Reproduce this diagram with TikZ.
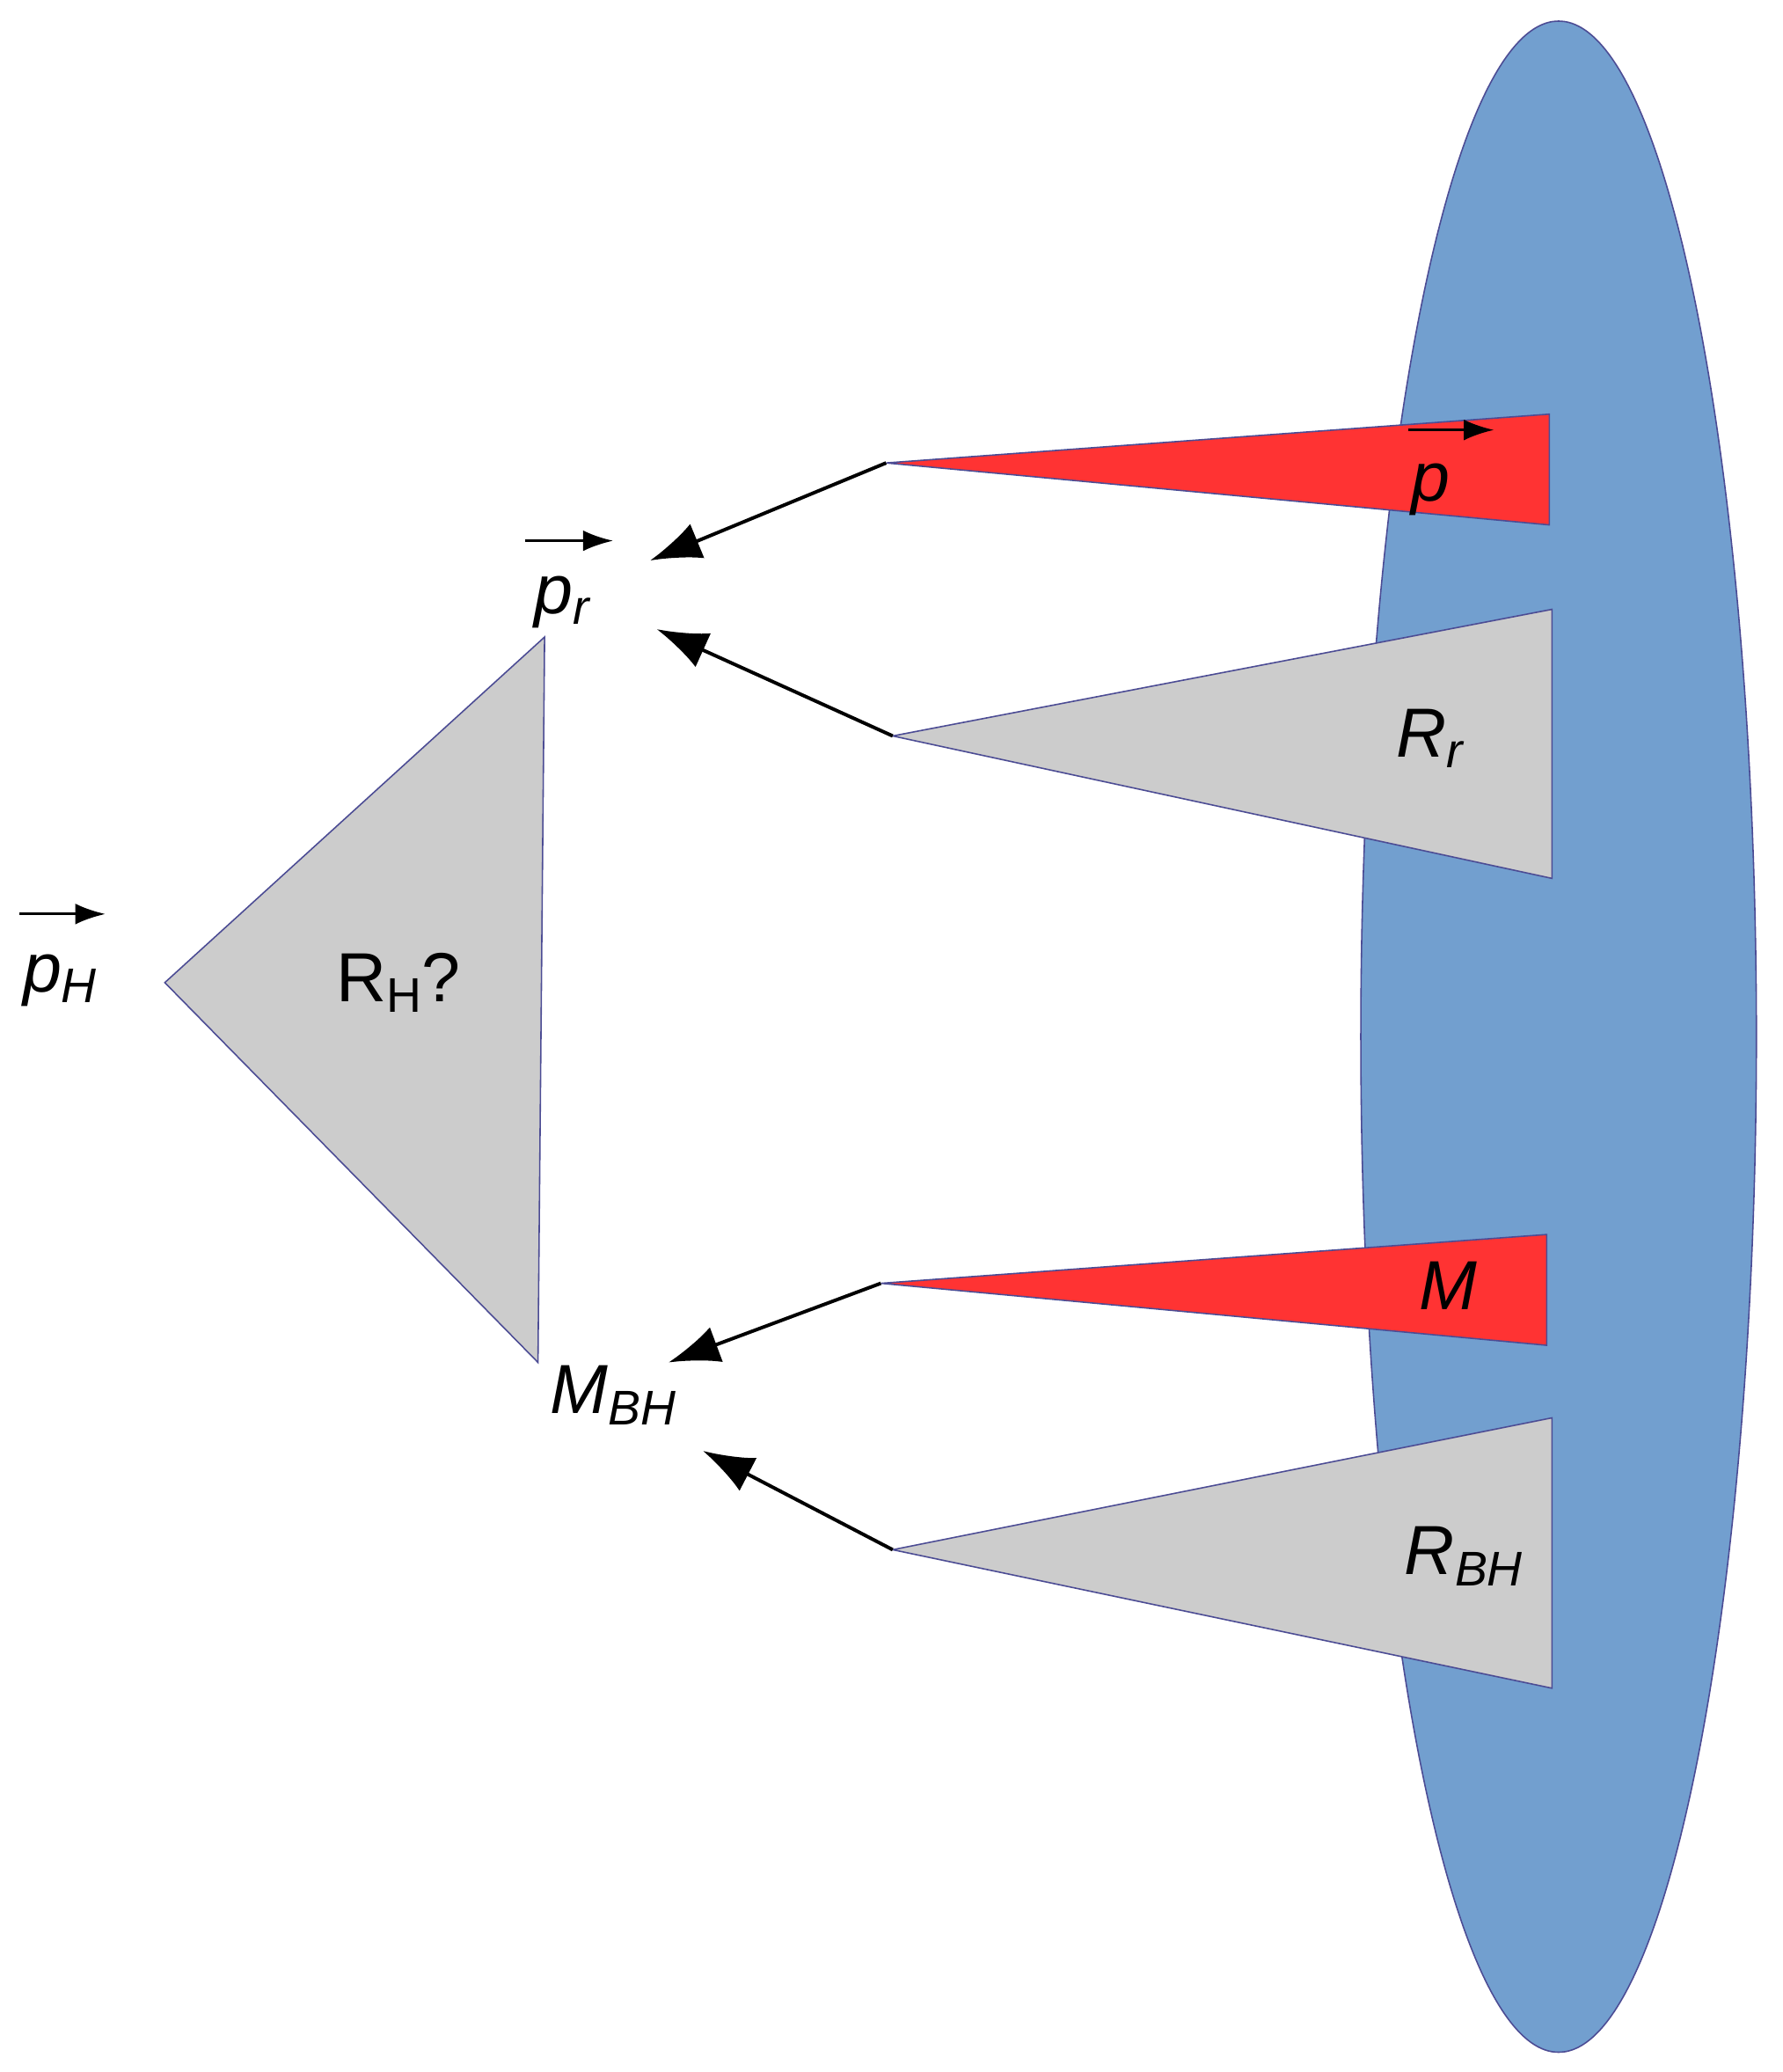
\documentclass[tikz,border=0pt]{standalone}
\usepackage{fontspec}
\setmainfont{Liberation Sans}
\usetikzlibrary{arrows.meta}
\newcommand{\lsub}[1]{\raisebox{-0.3ex}{\fontsize{21}{24}\selectfont #1}}
\begin{document}
\begin{tikzpicture}[x=0.02cm,y=-0.02cm,
  lab/.style={font=\fontsize{30}{34}\selectfont,inner sep=0},
  tri/.style={draw=blue!40!black!70,line width=0.6pt},
  grey/.style={tri,fill=black!20},
  red/.style={tri,fill=red!80!white},
  arr/.style={line width=1.5pt,-{Latex[length=22pt,width=16pt]}},
  varr/.style={line width=1.2pt,-{Latex[length=13pt,width=9pt]}}]
\useasboundingbox (0,0) rectangle (1352,1571);
\filldraw[fill={rgb,255:red,114;green,159;blue,207},draw=blue!40!black!70,line width=0.6pt] (1182,786) ellipse [x radius=150,y radius=770];
% triangles
\draw[red] (672,351) coordinate (a1) -- (1175,314) -- (1175,398) -- cycle;
\draw[grey] (677,558) coordinate (a2) -- (1177,462) -- (1177,666) -- cycle;
\draw[red] (668,973) coordinate (a3) -- (1173,936) -- (1173,1020) -- cycle;
\draw[grey] (677,1175) coordinate (a4) -- (1177,1075) -- (1177,1280) -- cycle;
\draw[grey] (125,745) -- (413,483) -- (408,1033) -- cycle;
% labels
\node[lab,anchor=base west] (p) at (1070,380) {\textit{p}};
\node[lab] (rr) at (1085,560) {\textit{R}\lsub{\textit{r}}};
\node[lab] (m) at (1098,975) {\textit{M}};
\node[lab] (rbh) at (1110,1180) {\textit{R}\lsub{\textit{BH}}};
\node[lab] (rh) at (302,745) {R\lsub{H}?};
\node[lab,anchor=base west] (ph) at (17,752) {\textit{p}\lsub{\textit{H}}};
\node[lab,anchor=base west] (pr) at (405,465) {\textit{p}\lsub{\textit{r}}};
\node[lab] (mbh) at (465,1058) {\textit{M}\lsub{\textit{BH}}};
% vector arrows
\draw[varr] (1068,326) -- (1133,326);
\draw[varr] (398,410) -- (465,410);
\draw[varr] (15,693) -- (80,693);
% arrows
\coordinate (t1) at (493,425);
\coordinate (t2) at (498,477);
\coordinate (t3) at (507,1033);
\coordinate (t4) at (533,1100);
\draw[arr] (a1) -- (t1);
\draw[arr] (a2) -- (t2);
\draw[arr] (a3) -- (t3);
\draw[arr] (a4) -- (t4);
\end{tikzpicture}
\end{document}
